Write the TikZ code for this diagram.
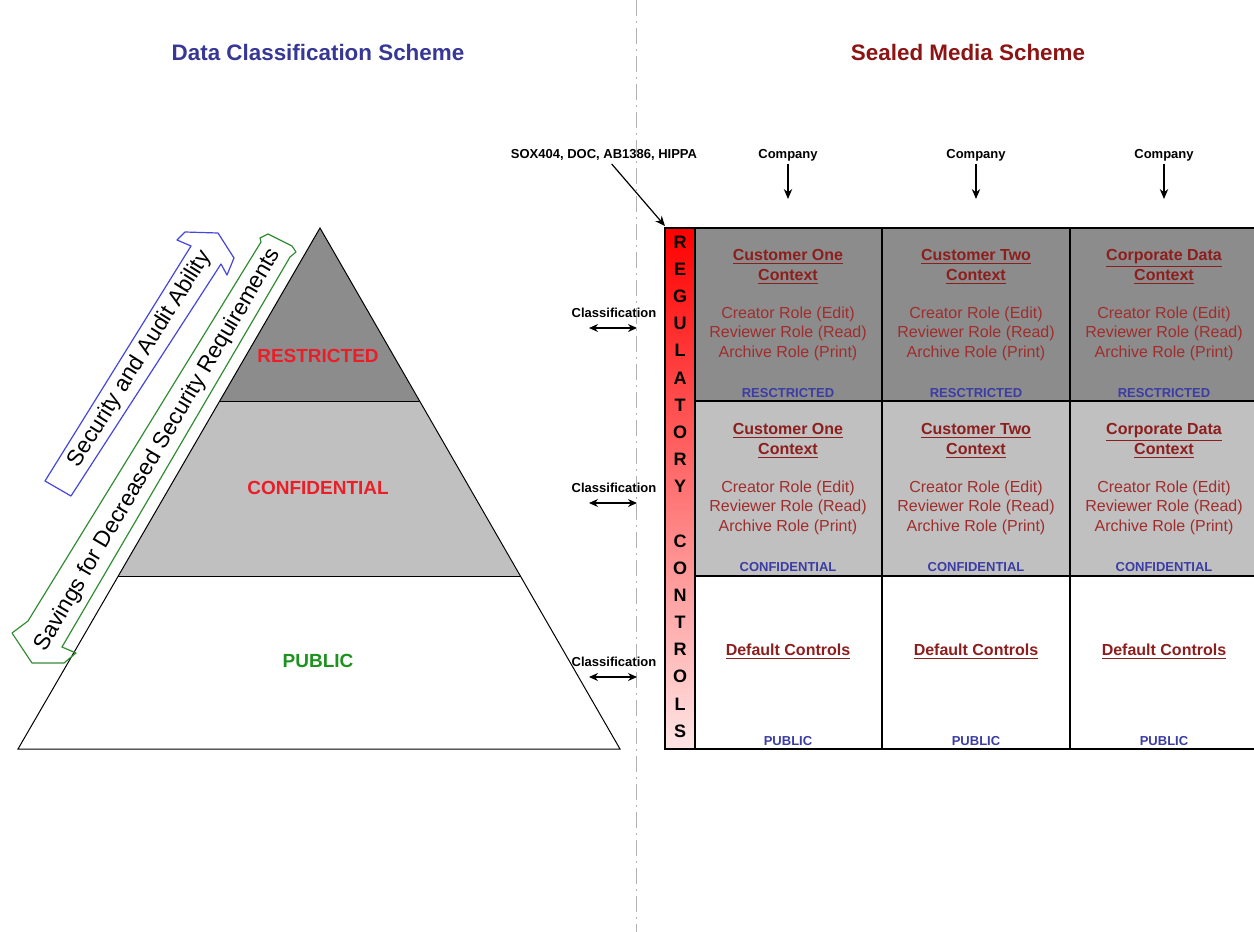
\documentclass[tikz,border=0pt]{standalone}
\usepackage{fontspec}
\setmainfont{Liberation Sans}
\usetikzlibrary{arrows.meta}
\definecolor{titleblue}{RGB}{55,55,150}
\definecolor{titlered}{RGB}{140,20,20}
\definecolor{pyrred}{RGB}{235,30,40}
\definecolor{pubgreen}{RGB}{30,145,30}
\definecolor{celltitle}{RGB}{140,30,30}
\definecolor{celltext}{RGB}{160,45,45}
\definecolor{lvlblue}{RGB}{60,60,165}
\definecolor{darkg}{RGB}{140,140,140}
\definecolor{lightg}{RGB}{192,192,192}
\definecolor{arrowblue}{RGB}{70,70,220}
\definecolor{arrowgreen}{RGB}{50,140,50}
\begin{document}
\begin{tikzpicture}[x=0.5pt,y=-0.5pt,
  title/.style={font=\fontsize{11.2}{13}\selectfont\bfseries, inner sep=0pt},
  pyrlabel/.style={font=\fontsize{9.5}{11}\selectfont\bfseries, inner sep=0pt},
  smalllabel/.style={font=\fontsize{6.5}{8}\selectfont\bfseries, inner sep=1.5pt},
  regletter/.style={font=\fontsize{9}{10}\selectfont\bfseries, inner sep=0pt},
  ctitle/.style={font=\fontsize{8}{9.75}\selectfont\bfseries, text=celltitle, align=center, inner sep=0pt},
  croles/.style={font=\fontsize{8}{9.75}\selectfont, text=celltext, align=center, inner sep=0pt},
  clevel/.style={font=\fontsize{6.5}{8}\selectfont\bfseries, text=lvlblue, inner sep=0pt},
  arrowtext/.style={font=\fontsize{11.3}{13}\selectfont, inner sep=0pt},
  tip/.style={-{Stealth[length=5pt,width=4.2pt]}, line width=0.6pt},
  dtip/.style={{Stealth[length=4.5pt,width=4pt]}-{Stealth[length=4.5pt,width=4pt]}, line width=0.6pt},
  gridline/.style={line width=0.75pt, draw=black},
]
\useasboundingbox (0,0) rectangle (1254,932);
\clip (0,0) rectangle (1254,932);

% separator
\draw[gray!60, line width=0.5pt, dash pattern=on 8pt off 2.5pt on 1pt off 2.5pt] (636,0) -- (636,932);

% titles
\node[title, text=titleblue] (t1) at (318,52) {Data Classification Scheme};
\node[title, text=titlered] (t2) at (968,52) {Sealed Media Scheme};

% pyramid
\fill[darkg] (320,228) -- (219.72,401) -- (419.28,401) -- cycle;
\fill[lightg] (219.72,401) -- (118.28,576) -- (519.72,576) -- (419.28,401) -- cycle;
\draw[line width=0.5pt] (320,228) -- (18,749) -- (620,749) -- cycle;
\draw[line width=0.5pt] (219.72,401) -- (419.28,401);
\draw[line width=0.5pt] (118.28,576) -- (519.72,576);
\node[pyrlabel, text=pyrred] (p1) at (318,356) {RESTRICTED};
\node[pyrlabel, text=pyrred] (p2) at (318,488) {CONFIDENTIAL};
\node[pyrlabel, text=pubgreen] (p3) at (318,661) {PUBLIC};

% blue arrow
\draw[arrowblue, line width=0.6pt, line join=round] (45,481) -- (191,246) -- (177,240) -- (185,232) -- (218,233) -- (234,258) -- (227,275) -- (221,264) -- (71,496) -- cycle;
\node[arrowtext, rotate=58] (sa) at (140,359) {Security and Audit Ability};

% green arrow
\draw[arrowgreen, line width=0.6pt, line join=round] (28,621) -- (12,633) -- (32,663) -- (64,663) -- (76,653) -- (62,647) -- (290,257) -- (296,252) -- (292,246) -- (268,234) -- (260,238) -- (261,242) -- cycle;
\node[arrowtext, rotate=59.5] (sv) at (158,450) {Savings for Decreased Security Requirements};

% grid fills
\fill[darkg] (695,228) rectangle (1258,401);
\fill[lightg] (695,401) rectangle (1258,576);
\shade[top color=red, bottom color=red!10] (665,228) rectangle (695,749);
\draw[gridline] (665,228) rectangle (1258,749);
\draw[gridline] (695,228) -- (695,749);
\draw[gridline] (882,228) -- (882,749);
\draw[gridline] (1070,228) -- (1070,749);
\draw[gridline] (695,401) -- (1258,401);
\draw[gridline] (695,576) -- (1258,576);

% regulatory controls letters
\foreach \l [count=\i from 0] in {R,E,G,U,L,A,T,O,R,Y,{},C,O,N,T,R,O,L,S}
  \node[regletter] (reg\i) at (680,{242+27.17*\i}) {\l};

% cells
\foreach \cx/\nm [count=\k] in {788/Customer One, 976/Customer Two, 1164/Corporate Data}{
  \node[ctitle] (ct1\k) at (\cx,267) {\underline{\nm}\\\underline{Context}};
  \node[croles] (cr1\k) at (\cx,333.5) {Creator Role (Edit)\\Reviewer Role (Read)\\Archive Role (Print)};
  \node[clevel] (cl1\k) at (\cx,393.5) {RESCTRICTED};
  \node[ctitle] (ct2\k) at (\cx,441) {\underline{\nm}\\\underline{Context}};
  \node[croles] (cr2\k) at (\cx,507.5) {Creator Role (Edit)\\Reviewer Role (Read)\\Archive Role (Print)};
  \node[clevel] (cl2\k) at (\cx,567.5) {CONFIDENTIAL};
  \node[ctitle] (ct3\k) at (\cx,652) {\underline{Default Controls}};
  \node[clevel] (cl3\k) at (\cx,741.5) {PUBLIC};
}

% company labels and arrows
\foreach \cx [count=\k] in {788,976,1164}{
  \node[smalllabel] (co\k) at (\cx,155) {Company};
  \coordinate (cot\k) at (\cx,199);
  \draw[tip] (co\k) -- (cot\k);
}

% regulations
\node[smalllabel] (sox) at (604,155) {SOX404, DOC, AB1386, HIPPA};
\coordinate (soxend) at (665,226);
\draw[tip] (sox) -- (soxend);

% classification arrows
\foreach \yy [count=\k] in {328,503,677}{
  \node[smalllabel] (cls\k) at (614,{\yy-15}) {Classification};
  \coordinate (cla\k) at (589,\yy);
  \coordinate (clb\k) at (637,\yy);
  \draw[dtip] (cla\k) -- (clb\k);
}
\end{tikzpicture}
\end{document}
